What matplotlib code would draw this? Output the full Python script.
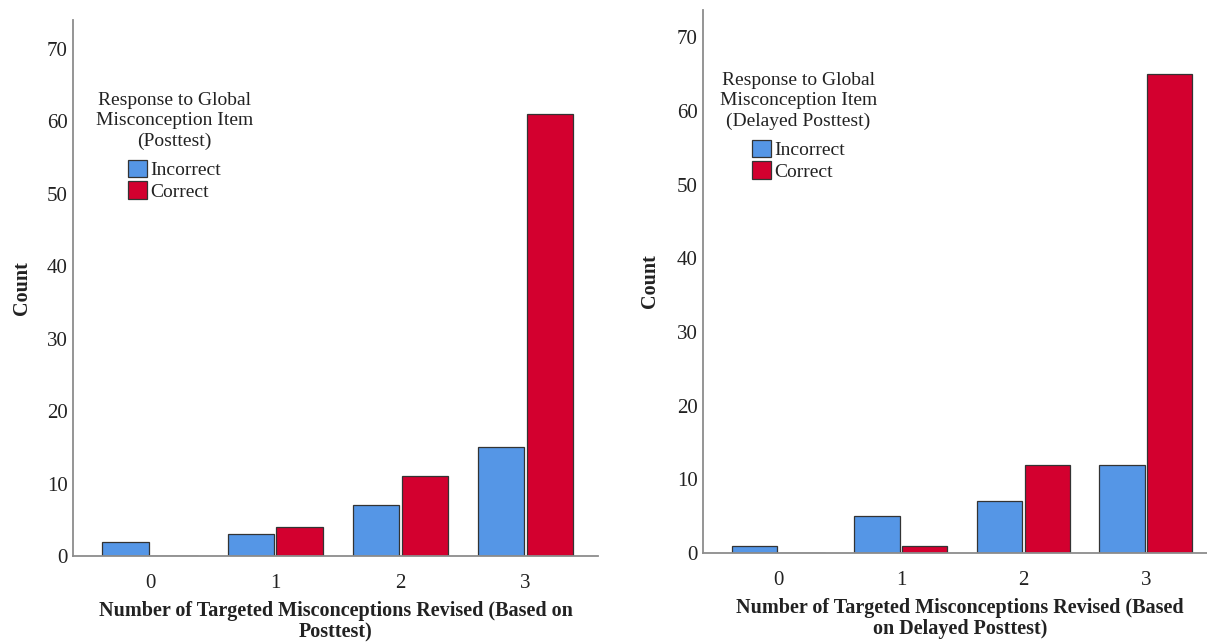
import matplotlib
matplotlib.use("Agg")
import matplotlib.pyplot as plt
import numpy as np

plt.rcParams['font.family'] = ['Liberation Serif', 'DejaVu Serif']

categories = ["0", "1", "2", "3"]
series_names = ["Incorrect", "Correct"]

# posttest
post_incorrect = [2, 3, 7, 15]
post_correct = [0, 4, 11, 61]

# delayed posttest
delayed_incorrect = [1, 5, 7, 12]
delayed_correct = [0, 1, 12, 65]

BLUE = "#5596E6"
RED = "#D3002F"
SPINE = "#8c8c8c"
TEXT = "#222222"

fig = plt.figure(figsize=(12.07, 6.42), dpi=100)
fig.patch.set_facecolor("white")


def panel(rect, inc, cor, ytop, legend_title, xlabel, leg_anchor, ylpad):
    ax = fig.add_axes(rect)
    x = np.arange(len(categories))
    w = 0.37
    ax.bar(x - 0.195, inc, width=w, color=BLUE, edgecolor="#333333", linewidth=0.9, label=series_names[0])
    ax.bar(x + 0.195, cor, width=w, color=RED, edgecolor="#333333", linewidth=0.9, label=series_names[1])
    ax.set_xlim(-0.615, 3.58)
    ax.set_ylim(0, ytop)
    ax.set_xticks(x)
    ax.set_xticklabels(categories)
    ax.set_yticks(range(0, 71, 10))
    ax.tick_params(length=0, labelsize=15, colors=TEXT)
    ax.tick_params(axis="y", pad=4)
    ax.tick_params(axis="x", pad=13)
    for s in ["top", "right"]:
        ax.spines[s].set_visible(False)
    for s in ["left", "bottom"]:
        ax.spines[s].set_color(SPINE)
        ax.spines[s].set_linewidth(1.3)
    ax.set_ylabel("Count", fontsize=14.5, fontweight="bold", color=TEXT, labelpad=ylpad)
    ax.set_xlabel(xlabel, fontsize=14.5, fontweight="bold", color=TEXT, labelpad=5.5, linespacing=1.12)
    leg = ax.legend(title=legend_title, loc="upper left", bbox_to_anchor=leg_anchor,
                    frameon=False, fontsize=14, title_fontsize=14, alignment="center",
                    handlelength=1.0, handleheight=1.0, handletextpad=0.15,
                    labelspacing=0.1, borderpad=0)
    leg.get_title().set_multialignment("center")
    leg.get_title().set_linespacing(1.27)
    leg.get_title().set_color(TEXT)
    # more room between the title and the entries
    leg._legend_box.sep = 7
    for t in leg.get_texts():
        t.set_color(TEXT)
    return ax


panel([73 / 1207, 86 / 642, 525 / 1207, 536 / 642], post_incorrect, post_correct, 74.0,
      "Response to Global\nMisconception Item\n(Posttest)",
      "Number of Targeted Misconceptions Revised (Based on\nPosttest)", (0.025, 0.884), 10.5)

panel([703 / 1207, 89 / 642, 514 / 1207, 543 / 642], delayed_incorrect, delayed_correct, 73.7,
      "Response to Global\nMisconception Item\n(Delayed Posttest)",
      "Number of Targeted Misconceptions Revised (Based\non Delayed Posttest)", (0.014, 0.904), 12)

fig.savefig("out.png", dpi=100, facecolor="white")
